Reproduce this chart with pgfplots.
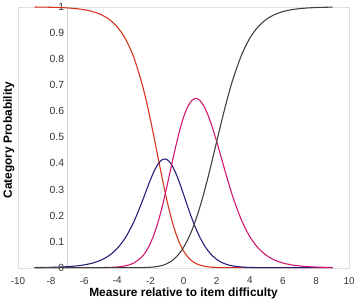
\documentclass[border=0pt]{standalone}
\usepackage{fontspec}
\setmainfont{Liberation Sans}
\usepackage{pgfplots}
\usepackage{pgfplotstable}
\pgfplotsset{compat=1.18}
\definecolor{cRed}{RGB}{214,52,28}
\definecolor{cBlue}{RGB}{38,30,120}
\definecolor{cMag}{RGB}{208,22,112}
\definecolor{cGray}{RGB}{64,64,64}
\pgfplotstableread{
x p0 p1 p2 p3
-9 0.99946 0.00054 0 0
-8.5 0.99911 0.00089 0 0
-8 0.99853 0.00147 0 0
-7.5 0.99757 0.00243 0 0
-7 0.99601 0.00399 0.00001 0
-6.5 0.99342 0.00656 0.00002 0
-6 0.98918 0.01077 0.00005 0
-5.5 0.98222 0.01763 0.00015 0
-5 0.97086 0.02874 0.00040 0
-4.5 0.95245 0.04648 0.00106 0
-4 0.92293 0.07426 0.00279 0.00001
-3.5 0.87649 0.11627 0.00721 0.00003
-3 0.80565 0.17621 0.01802 0.00012
-2.5 0.70319 0.25357 0.04276 0.00048
-2.25 0.63910 0.29591 0.06408 0.00091
-2 0.56727 0.33725 0.09377 0.00172
-1.75 0.48964 0.37378 0.13344 0.00314
-1.5 0.40932 0.40121 0.18392 0.00555
-1.25 0.33024 0.41564 0.24464 0.00948
-1 0.25652 0.41456 0.31332 0.01560
-0.75 0.19166 0.39771 0.38596 0.02467
-0.5 0.13780 0.36716 0.45750 0.03755
-0.25 0.09549 0.32670 0.52271 0.05509
0 0.06394 0.28089 0.57707 0.07810
0.25 0.04148 0.23399 0.61726 0.10726
0.5 0.02614 0.18936 0.64139 0.14311
0.75 0.01600 0.14920 0.64890 0.18590
1 0.00960 0.11464 0.64023 0.23553
1.25 0.00561 0.08604 0.61693 0.29142
1.5 0.00321 0.06312 0.58117 0.35250
1.75 0.00179 0.04531 0.53569 0.41720
2 0.00098 0.03186 0.48358 0.48358
2.25 0.00053 0.02196 0.42798 0.54954
2.5 0.00028 0.01486 0.37183 0.61304
2.75 0.00014 0.00988 0.31760 0.67237
3 0.00007 0.00647 0.26718 0.72627
3.5 0.00002 0.00267 0.18194 0.81538
4 0 0.00106 0.11908 0.87986
4.5 0 0.00041 0.07583 0.92376
5 0 0.00016 0.04742 0.95242
5.5 0 0.00006 0.02931 0.97063
6 0 0.00002 0.01799 0.98201
6.5 0 0.00001 0.01099 0.98901
7 0 0 0.00669 0.99331
7.5 0 0 0.00407 0.99593
8 0 0 0.00247 0.99753
8.5 0 0 0.00150 0.99850
9 0 0 0.00091 0.99909
}\datatable
\begin{document}
\begin{tikzpicture}
\begin{axis}[
  scale only axis,
  width=334pt, height=263pt,
  xmin=-10, xmax=10, ymin=0, ymax=1,
  xtick={-10,-8,...,10},
  ytick={0,0.1,0.2,0.3,0.4,0.5,0.6,0.7,0.8,0.9,1},
  axis line style={draw=gray!25},
  major tick length=0pt,
  tick label style={font=\fontsize{10}{12}\selectfont, text=black!80},
  /pgf/number format/assume math mode=true,
  yticklabel style={/pgf/number format/fixed, /pgf/number format/precision=1, xshift=50.1pt, font=\fontsize{10.5}{12}\selectfont},
  xticklabel style={yshift=-6pt},
  xlabel={Measure relative to item difficulty},
  ylabel={Category Probability},
  label style={font=\fontsize{12}{14}\selectfont\bfseries},
  xlabel style={yshift=3pt},
  ylabel style={at={(axis description cs:0,0.5)}, anchor=south, xshift=-3pt},
  clip=false,
]
\draw[gray!35] (axis cs:-7,0) -- (axis cs:-7,1);
\addplot[cRed, line width=1.1pt, smooth] table[x=x, y=p0] {\datatable};
\addplot[cBlue, line width=1.1pt, smooth] table[x=x, y=p1] {\datatable};
\addplot[cMag, line width=1.1pt, smooth] table[x=x, y=p2] {\datatable};
\addplot[cGray, line width=1.1pt, smooth] table[x=x, y=p3] {\datatable};
\end{axis}
\end{tikzpicture}
\end{document}
